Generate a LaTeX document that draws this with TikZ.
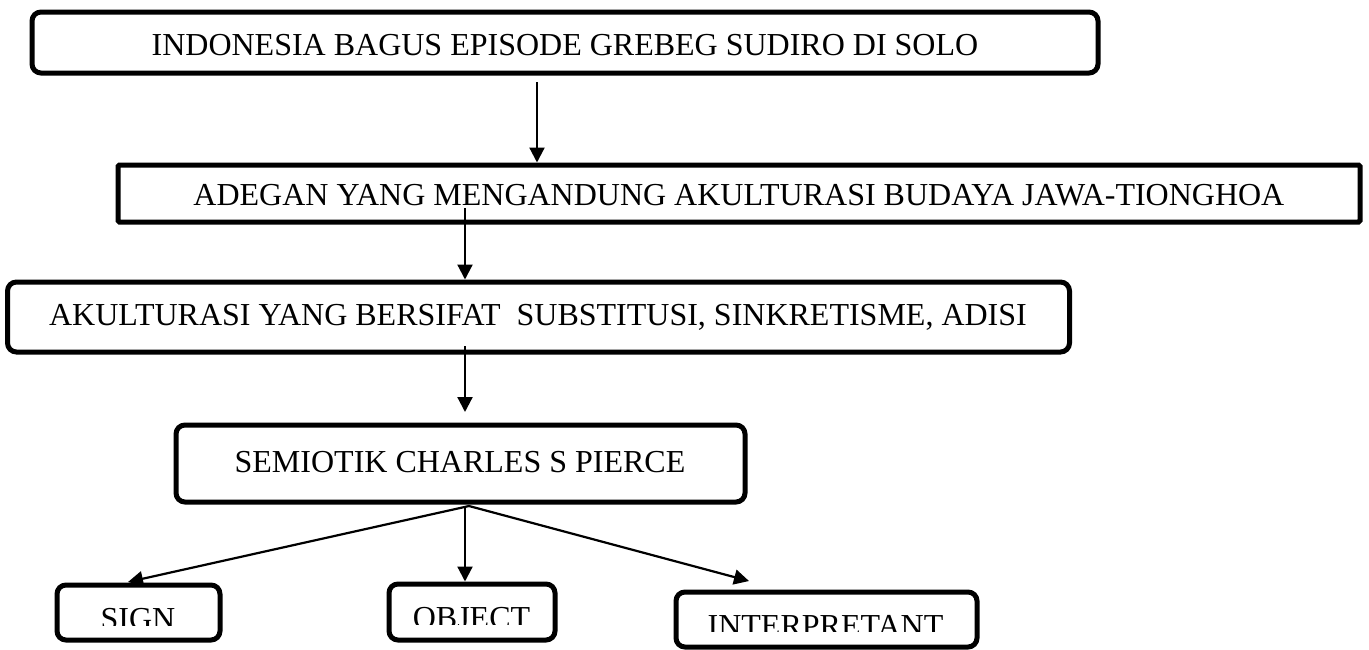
\documentclass[tikz,border=0pt]{standalone}
\usepackage{fontspec}
\setmainfont{Liberation Serif}
\usetikzlibrary{arrows.meta}
\begin{document}
\begin{tikzpicture}[x=1pt,y=-1pt,
  rbox/.style={draw=black,line width=5pt,rounded corners=9pt,inner sep=0pt},
  sqbox/.style={draw=black,line width=5pt,rounded corners=1.5pt,inner sep=0pt},
  lbl/.style={anchor=base,inner sep=0pt,font=\fontsize{32}{38}\selectfont},
  arr/.style={line width=2.2pt,-{Triangle[width=15pt,length=15pt]}}]
\useasboundingbox[fill=white] (0,0) rectangle (1369,649);

% boxes
\node[rbox,minimum width=1066pt,minimum height=61pt] (box1) at (565,42.5) {};
\node[sqbox,minimum width=1242pt,minimum height=57pt] (box2) at (739,193.5) {};
\node[rbox,minimum width=1062pt,minimum height=70pt] (box3) at (538.5,317) {};
\node[rbox,minimum width=569pt,minimum height=77pt] (box4) at (460.5,463.5) {};
\node[rbox,minimum width=163pt,minimum height=55pt] (sign) at (138.5,612.5) {};
\node[rbox,minimum width=166pt,minimum height=56pt] (obj) at (472,612) {};
\node[rbox,minimum width=301pt,minimum height=55pt] (interp) at (826.5,619.5) {};

% texts
\node[lbl] (t1) at (565,55) {INDONESIA BAGUS EPISODE GREBEG SUDIRO DI SOLO};
\node[lbl] (t2) at (739,205) {ADEGAN YANG MENGANDUNG AKULTURASI BUDAYA JAWA-TIONGHOA};
\node[lbl] (t3) at (538,325) {AKULTURASI YANG BERSIFAT\ \ SUBSTITUSI, SINKRETISME, ADISI};
\node[lbl] (t4) at (460,472) {SEMIOTIK CHARLES S PIERCE};
\begin{scope}
  \clip (0,0) rectangle (1369,625);
  \node[lbl] (t5) at (138,629) {SIGN};
\end{scope}
\begin{scope}
  \clip (0,0) rectangle (1369,624);
  \node[lbl] (t6) at (471.5,628) {OBJECT};
\end{scope}
\begin{scope}
  \clip (0,0) rectangle (1369,631);
  \node[lbl] (t7) at (825.5,636) {INTERPRETANT};
\end{scope}

% connector points
\coordinate (a1s) at (537,82);
\coordinate (a2s) at (465,208);
\coordinate (a3s) at (465,346);
\coordinate (a3e) at (465,412);
\coordinate (fan) at (469,506);
\coordinate (fanO) at (465,506);
\coordinate (tipS) at (128,582);
\coordinate (tipI) at (749,581);

% connectors
\draw[arr] (a1s) -- (a1s |- box2.north);
\draw[arr] (a2s) -- (a2s |- box3.north);
\draw[arr] (a3s) -- (a3e);
\draw[arr] (fan) -- (tipS);
\draw[arr] (fanO) -- (fanO |- obj.north);
\draw[arr] (fan) -- (tipI);
\end{tikzpicture}
\end{document}
